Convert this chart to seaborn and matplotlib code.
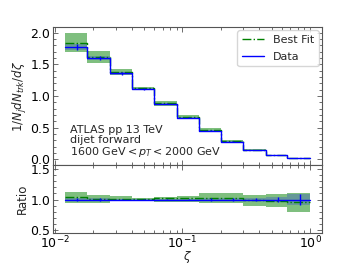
import numpy as np
import pandas as pd
import matplotlib
matplotlib.use('Agg')
import matplotlib.pyplot as plt
import seaborn as sns

# bin edges in zeta and values
edges = [0.012, 0.018, 0.027, 0.040, 0.060, 0.090, 0.135, 0.200, 0.300, 0.450, 0.665, 1.0]
data = [1.78, 1.60, 1.36, 1.11, 0.88, 0.66, 0.45, 0.28, 0.150, 0.063, 0.020]
data_err = [0.045, 0.035, 0.020, 0.015, 0.012, 0.010, 0.008, 0.005, 0.004, 0.0025, 0.0019]
fit = [1.84, 1.62, 1.375, 1.12, 0.895, 0.675, 0.4635, 0.288, 0.150, 0.062, 0.0192]
fit_lo = [1.69, 1.52, 1.333, 1.10, 0.845, 0.630, 0.4275, 0.266, 0.135, 0.055, 0.0160]
fit_hi = [1.99, 1.71, 1.428, 1.143, 0.915, 0.703, 0.500, 0.311, 0.162, 0.069, 0.0222]

sns.set_style("ticks")
plt.rcParams['font.family'] = ['DejaVu Sans']
plt.rcParams['font.size'] = 8.5
plt.rcParams['xtick.labelsize'] = 9
plt.rcParams['ytick.labelsize'] = 9
plt.rcParams['axes.edgecolor'] = '#555555'
plt.rcParams['xtick.color'] = '#555555'
plt.rcParams['ytick.color'] = '#555555'
plt.rcParams['xtick.labelcolor'] = 'black'
plt.rcParams['ytick.labelcolor'] = 'black'

edges = np.array(edges)
data = np.array(data)
data_err = np.array(data_err)
fit = np.array(fit)
fit_lo = np.array(fit_lo)
fit_hi = np.array(fit_hi)
centers = (edges[:-1] + edges[1:]) / 2

def stepped(v):
    return np.append(v, v[-1])

fig, (ax, rax) = plt.subplots(2, 1, figsize=(3.57, 2.68), dpi=100, sharex=True,
                              gridspec_kw={'height_ratios': [2.03, 1]})
fig.subplots_adjust(left=0.149, right=0.902, top=0.899, bottom=0.131, hspace=0)

# main panel
ax.fill_between(edges, stepped(fit_lo), stepped(fit_hi), step='post', color='green', alpha=0.5, lw=0)
ax.fill_between(edges, stepped(data - data_err), stepped(data + data_err), step='post',
                color='blue', alpha=0.2, lw=0)
sns.lineplot(x=edges, y=stepped(fit), drawstyle='steps-post', color='green', ls='-.', lw=1,
             label='Best Fit', ax=ax)
sns.lineplot(x=edges, y=stepped(data), drawstyle='steps-post', color='blue', lw=1,
             label='Data', ax=ax)
ax.errorbar(centers, data, yerr=data_err, fmt='none', ecolor='blue', lw=1)

ax.set_xscale('log')
ax.set_xlim(0.0097, 1.24)
ax.set_ylim(-0.09, 2.09)
ax.set_yticks([0.0, 0.5, 1.0, 1.5, 2.0])
ax.set_ylabel(r'$1/N_j dN_{trk}/d\zeta$', labelpad=1)
ax.legend(loc='upper right', fontsize=8, borderaxespad=0.3, handlelength=2.0, labelspacing=0.6)
ax.text(0.063, 0.04, 'ATLAS pp 13 TeV\ndijet forward\n1600 GeV$<p_T<$2000 GeV',
        transform=ax.transAxes, ha='left', va='bottom', fontsize=8, linespacing=1.05)

# ratio panel
r_fit = fit / data
r_lo = fit_lo / data
r_hi = fit_hi / data
r_err = data_err / data
ones = np.ones_like(data)
rax.fill_between(edges, stepped(r_lo), stepped(r_hi), step='post', color='green', alpha=0.5, lw=0)
rax.fill_between(edges, stepped(ones - r_err), stepped(ones + r_err), step='post',
                 color='blue', alpha=0.2, lw=0)
sns.lineplot(x=edges, y=stepped(r_fit), drawstyle='steps-post', color='green', ls='-.', lw=1, ax=rax)
sns.lineplot(x=edges, y=stepped(ones), drawstyle='steps-post', color='blue', lw=1, ax=rax)
rax.errorbar(centers, ones, yerr=r_err, fmt='none', ecolor='blue', lw=1)
rax.set_ylim(0.46, 1.56)
rax.set_yticks([0.5, 1.0, 1.5])
rax.set_ylabel('Ratio', labelpad=1)
rax.set_xlabel(r'$\zeta$', labelpad=-1, fontsize=8.5)

for a in (ax, rax):
    a.minorticks_on()
    a.tick_params(which='both', direction='in', top=True, right=True, width=0.6, pad=2)
    a.tick_params(which='major', length=3.5)
    a.tick_params(which='minor', length=2)
    for s in a.spines.values():
        s.set_linewidth(0.8)
ax.tick_params(labelbottom=False)
rax.tick_params(axis='x', which='both', pad=1)
fig.align_ylabels([ax, rax])

fig.savefig('out.png', dpi=100)
